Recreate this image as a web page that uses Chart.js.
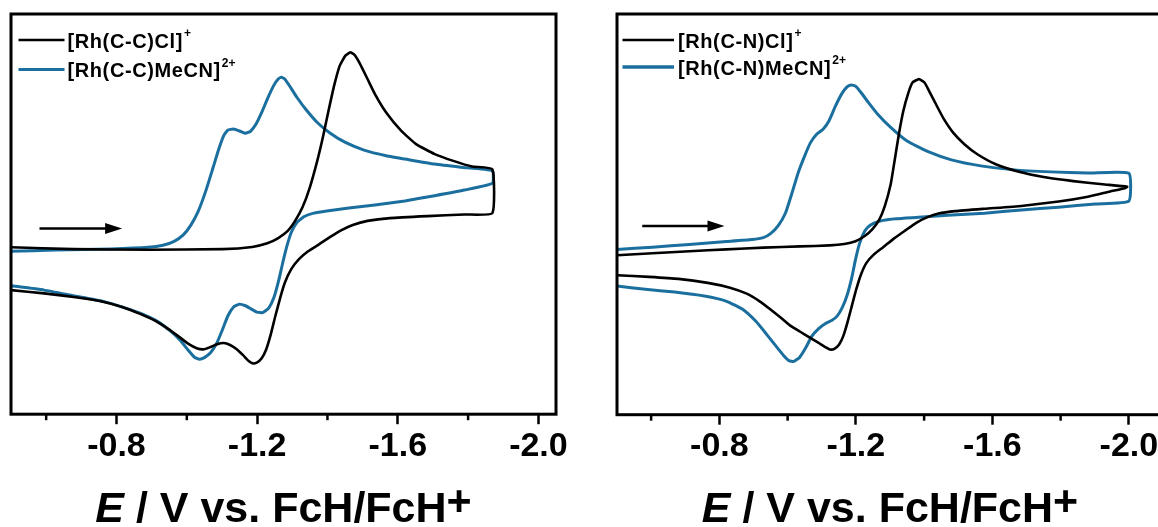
<!DOCTYPE html>
<html>
<head>
<meta charset="utf-8">
<script src="https://cdn.jsdelivr.net/npm/chart.js@4.4.1/dist/chart.umd.min.js"></script>
<style>
  html, body { margin: 0; padding: 0; background: #ffffff; overflow: hidden; width: 1158px; height: 527px; }
  .panel { position: absolute; top: 0; }
</style>
</head>
<body>
<div class="panel" style="left:0px;"><canvas id="cc" width="580" height="527"></canvas></div>
<div class="panel" style="left:600px;"><canvas id="cn" width="600" height="527"></canvas></div>
<script>
// ---------- Data (E in V vs FcH/FcH+, current in arbitrary units) ----------
const majorTicks = [-0.8, -1.2, -1.6, -2.0];
const minorTicks = [-0.6, -1.0, -1.4, -1.8];

const ccLabels  = ['[Rh(C-C)Cl]', '[Rh(C-C)MeCN]'];
const ccCharges = ['+', '2+'];
const cnLabels  = ['[Rh(C-N)Cl]', '[Rh(C-N)MeCN]'];
const cnCharges = ['+', '2+'];

// [Rh(C-C)Cl]+
const ccClE = [-0.5,-0.678,-0.890,-1.102,-1.186,-1.229,-1.260,-1.287,-1.308,-1.329,-1.350,-1.371,-1.387,-1.403,-1.419,-1.435,-1.451,-1.465,-1.477,-1.493,-1.514,-1.535,-1.567,-1.610,-1.652,-1.705,-1.758,-1.811,-1.869,
  -1.869,-1.789,-1.684,-1.578,-1.514,-1.472,-1.440,-1.408,-1.377,-1.345,-1.319,-1.297,-1.279,-1.266,-1.252,-1.239,-1.226,-1.213,-1.199,-1.188,-1.176,-1.160,-1.142,-1.123,-1.105,-1.086,-1.065,-1.047,-1.028,-1.006,-0.980,-0.948,-0.911,-0.869,-0.816,-0.752,-0.678,-0.594,-0.5];
const ccClI = [41.7,41.25,41.1,41.25,41.8,42.7,44.0,45.8,48.3,51.7,56.7,63.3,69.2,75.8,82.1,87.1,89.6,90.4,89.8,87.5,83.75,80.0,75.4,70.8,67.5,65.0,63.3,61.9,61.2,
  50.25,49.9,49.5,49.0,48.3,47.3,46.0,44.3,42.5,40.7,38.75,36.25,32.9,29.2,24.6,20.0,16.25,14.0,12.9,12.7,13.3,14.75,16.25,17.3,17.8,17.5,16.7,16.2,16.5,17.5,19.2,21.25,23.3,25.0,26.8,28.3,29.3,30.2,31.0];

// [Rh(C-C)MeCN]2+
const ccMeE = [-0.5,-0.625,-0.784,-0.890,-0.932,-0.964,-0.990,-1.012,-1.033,-1.054,-1.075,-1.091,-1.105,-1.117,-1.133,-1.152,-1.167,-1.181,-1.197,-1.213,-1.229,-1.247,-1.260,-1.269,-1.279,-1.294,-1.313,-1.340,-1.371,-1.408,-1.451,-1.504,-1.567,-1.631,-1.705,-1.779,-1.869,
  -1.869,-1.789,-1.705,-1.620,-1.535,-1.461,-1.398,-1.361,-1.334,-1.313,-1.297,-1.285,-1.273,-1.261,-1.248,-1.233,-1.216,-1.200,-1.184,-1.167,-1.149,-1.133,-1.117,-1.102,-1.086,-1.068,-1.051,-1.036,-1.021,-1.004,-0.983,-0.953,-0.916,-0.874,-0.826,-0.763,-0.678,-0.594,-0.5];
const ccMeI = [40.7,41.0,41.3,41.7,42.2,43.2,44.8,47.3,50.8,55.8,61.7,66.25,69.6,71.0,71.25,70.7,70.2,70.7,72.5,75.4,78.75,82.1,83.75,84.2,83.7,81.8,79.2,76.0,72.9,70.2,67.9,66.0,64.6,63.6,62.5,61.7,60.8,
  57.7,56.0,54.6,53.3,52.3,51.5,50.8,50.25,49.4,47.9,45.4,42.1,37.9,33.3,29.2,26.5,25.4,25.5,26.25,27.1,27.5,26.8,24.6,21.25,17.9,15.4,14.2,13.75,14.3,16.0,18.3,20.8,23.2,25.0,26.5,28.2,29.6,31.0,32.1];

// [Rh(C-N)Cl]+
const cnClE = [-0.5,-0.604,-0.712,-0.821,-0.929,-1.037,-1.123,-1.166,-1.199,-1.226,-1.248,-1.269,-1.285,-1.302,-1.315,-1.326,-1.339,-1.354,-1.366,-1.385,-1.401,-1.417,-1.437,-1.458,-1.485,-1.518,-1.556,-1.610,-1.675,-1.750,-1.837,-1.923,-1.995,
  -1.988,-1.945,-1.880,-1.794,-1.685,-1.577,-1.491,-1.442,-1.410,-1.377,-1.345,-1.312,-1.280,-1.253,-1.231,-1.215,-1.201,-1.188,-1.175,-1.163,-1.151,-1.138,-1.125,-1.112,-1.091,-1.064,-1.037,-1.010,-0.983,-0.950,-0.918,-0.880,-0.831,-0.766,-0.680,-0.594,-0.5];
const cnClI = [39.8,40.3,40.8,41.25,41.7,42.0,42.25,42.6,43.3,44.6,46.25,48.75,52.1,57.5,64.2,70.0,75.8,80.4,82.9,83.75,82.9,80.4,77.1,73.75,70.4,67.5,65.0,62.5,60.7,59.3,58.3,57.5,56.9,
  56.5,55.7,54.4,53.2,52.1,51.4,50.8,50.2,49.3,47.9,46.0,44.0,41.8,40.0,37.9,35.0,31.25,27.1,22.9,19.6,17.5,16.5,16.25,16.8,17.9,19.3,20.7,22.1,24.0,26.25,28.3,30.2,31.7,32.9,33.9,34.4,34.8];

// [Rh(C-N)MeCN]2+
const cnMeE = [-0.5,-0.604,-0.712,-0.821,-0.896,-0.929,-0.950,-0.972,-0.994,-1.013,-1.031,-1.050,-1.067,-1.085,-1.104,-1.121,-1.139,-1.158,-1.174,-1.186,-1.199,-1.215,-1.237,-1.264,-1.302,-1.350,-1.410,-1.480,-1.566,-1.664,-1.772,-1.880,-2.0,
  -2.0,-1.902,-1.794,-1.685,-1.577,-1.469,-1.383,-1.318,-1.280,-1.253,-1.234,-1.221,-1.210,-1.199,-1.188,-1.175,-1.160,-1.145,-1.129,-1.110,-1.091,-1.071,-1.053,-1.035,-1.018,-1.004,-0.988,-0.966,-0.939,-0.907,-0.869,-0.821,-0.756,-0.669,-0.583,-0.5];
const cnMeI = [41.25,41.8,42.5,43.2,43.7,44.2,45.2,47.1,50.4,55.4,60.4,64.6,67.9,70.0,71.25,73.3,76.8,80.0,81.8,82.3,82.0,80.4,77.9,75.0,71.7,68.3,65.7,63.6,62.1,61.1,60.6,60.3,60.25,
  53.3,52.6,51.8,51.1,50.3,49.75,49.25,48.9,48.5,47.8,46.7,45.0,42.5,38.75,34.2,30.0,26.7,24.6,23.5,22.7,21.5,19.6,16.7,14.3,13.3,13.5,14.8,17.1,20.0,23.3,26.25,28.3,29.6,30.6,31.3,32.1];

// Sweep-direction arrows: [E start, E end, current level]
const ccArrow = [-0.581, -0.816, 46.4];
const cnArrow = [-0.574, -0.815, 47.1];

// ---------- Helpers ----------
const BLACK = '#000000';
const BLUE = '#1b6f9e';
const FONT = "'Liberation Sans', Arial, Helvetica, sans-serif";

function zip(E, I) { return E.map((e, k) => ({ x: e, y: I[k] })); }

const decorPlugin = {
  id: 'decor',
  afterDraw(chart, args, o) {
    const { ctx, chartArea: a, scales: { x, y } } = chart;
    ctx.save();
    // frame
    ctx.strokeStyle = BLACK;
    ctx.lineWidth = 3;
    ctx.strokeRect(a.left, a.top, a.right - a.left, a.bottom - a.top);
    // minor ticks
    ctx.lineWidth = 2.5;
    o.minor.forEach(v => {
      const px = x.getPixelForValue(v);
      if (px < a.left || px > a.right) return;
      ctx.beginPath(); ctx.moveTo(px, a.bottom); ctx.lineTo(px, a.bottom + 6); ctx.stroke();
    });
    // sweep arrow
    const x0 = x.getPixelForValue(o.arrow[0]);
    const x1 = x.getPixelForValue(o.arrow[1]);
    const yy = y.getPixelForValue(o.arrow[2]);
    ctx.fillStyle = BLACK;
    ctx.lineWidth = 2.5;
    ctx.beginPath(); ctx.moveTo(x0, yy); ctx.lineTo(x1 - 12, yy); ctx.stroke();
    ctx.beginPath(); ctx.moveTo(x1, yy); ctx.lineTo(x1 - 17, yy - 5.5); ctx.lineTo(x1 - 17, yy + 5.5); ctx.closePath(); ctx.fill();
    // legend
    chart.data.datasets.forEach((ds, i) => {
      const ry = a.top + o.rows[i];
      ctx.strokeStyle = ds.borderColor;
      ctx.lineWidth = o.lineW[i];
      ctx.beginPath(); ctx.moveTo(a.left + o.lx[0], ry); ctx.lineTo(a.left + o.lx[1], ry); ctx.stroke();
      ctx.fillStyle = BLACK;
      ctx.textBaseline = 'alphabetic';
      ctx.textAlign = 'left';
      ctx.font = 'bold 20px ' + FONT;
      ctx.letterSpacing = '0.6px';
      const tx = a.left + o.tx;
      ctx.fillText(o.labels[i], tx, ry + 7.5);
      const w = ctx.measureText(o.labels[i]).width;
      ctx.font = 'bold 12px ' + FONT;
      ctx.letterSpacing = '0px';
      ctx.fillText(o.charges[i], tx + w + 1, ry - 3);
    });
    // axis title: E / V vs. FcH/FcH+
    const size = 43;
    ctx.letterSpacing = '0px';
    ctx.fillStyle = BLACK;
    ctx.textBaseline = 'alphabetic';
    ctx.textAlign = 'left';
    const fI = 'italic bold ' + size + 'px ' + FONT;
    const fB = 'bold ' + size + 'px ' + FONT;
    ctx.font = fI; const wE = ctx.measureText('E').width;
    ctx.font = fB; const wR = ctx.measureText(' / V vs. FcH/FcH').width; const wP = ctx.measureText('+').width;
    const total = wE + wR + wP;
    let cx = (a.left + a.right) / 2 - total / 2;
    const base = o.titleY;
    ctx.font = fI; ctx.fillText('E', cx, base); cx += wE;
    ctx.font = fB; ctx.fillText(' / V vs. FcH/FcH', cx, base); cx += wR;
    ctx.fillText('+', cx, base - 7);
    ctx.restore();
  }
};

function makeChart(id, sets, xmin, pad, decor) {
  return new Chart(document.getElementById(id), {
    type: 'scatter',
    data: {
      datasets: [
        { data: zip(sets[0][0], sets[0][1]), borderColor: BLACK, borderWidth: 2.6 },
        { data: zip(sets[1][0], sets[1][1]), borderColor: BLUE, borderWidth: 3 }
      ].map(d => Object.assign(d, { showLine: true, pointRadius: 0, pointHoverRadius: 0, tension: 0.15, fill: false }))
    },
    options: {
      responsive: false,
      animation: false,
      devicePixelRatio: 1,
      events: [],
      layout: { padding: pad },
      plugins: { legend: { display: false }, tooltip: { enabled: false }, decor: decor },
      scales: {
        x: {
          type: 'linear',
          reverse: true,
          min: xmin,
          max: -0.5,
          border: { display: false },
          grid: { display: true, drawOnChartArea: false, drawTicks: true, tickLength: 10, tickWidth: 2.5, tickColor: BLACK },
          afterBuildTicks: (scale) => { scale.ticks = majorTicks.map(v => ({ value: v })); },
          ticks: {
            color: BLACK,
            padding: 2,
            maxRotation: 0,
            autoSkip: false,
            font: { family: FONT, size: 34, weight: 'bold' },
            callback: (v) => Number(v).toFixed(1)
          }
        },
        y: { type: 'linear', display: false, min: 0, max: 100 }
      }
    },
    plugins: [decorPlugin]
  });
}

makeChart('cc', [[ccClE, ccClI], [ccMeE, ccMeI]], -2.05,
  { left: 11, right: 24, top: 14, bottom: 58 },
  { minor: minorTicks, arrow: ccArrow, rows: [26, 55.5], lx: [7.5, 53.5], tx: 56.5, lineW: [2.5, 3.2],
    labels: ccLabels, charges: ccCharges, titleY: 522 });

makeChart('cn', [[cnClE, cnClI], [cnMeE, cnMeI]], -2.1,
  { left: 17, right: 37, top: 14, bottom: 57.5 },
  { minor: minorTicks, arrow: cnArrow, rows: [26, 53], lx: [5.5, 57], tx: 61, lineW: [2.5, 3.6],
    labels: cnLabels, charges: cnCharges, titleY: 522 });
</script>
</body>
</html>
